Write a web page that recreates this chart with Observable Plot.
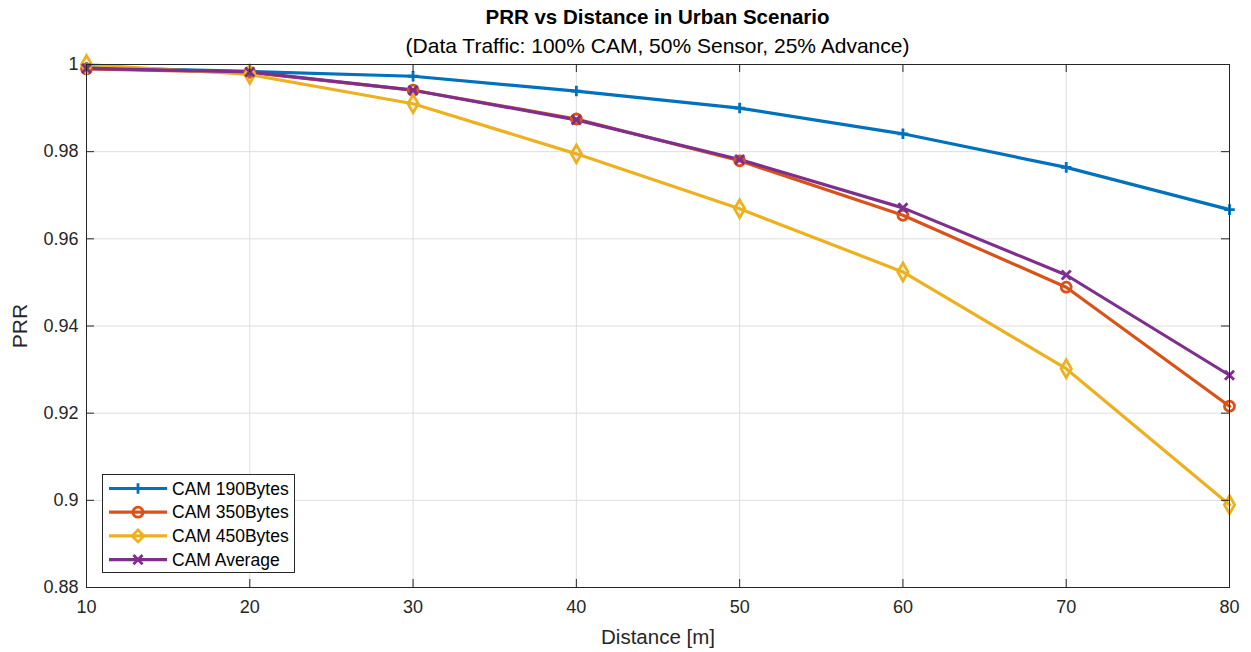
<!DOCTYPE html>
<html>
<head>
<meta charset="utf-8">
<script src="https://cdn.jsdelivr.net/npm/d3@7"></script>
<script src="https://cdn.jsdelivr.net/npm/@observablehq/plot@0.6"></script>
<style>
  html, body { margin: 0; padding: 0; background: #fff; }
  body { width: 1251px; height: 652px; position: relative; overflow: hidden; font-family: "Liberation Sans", Arial, sans-serif; color: #000; }
  #header { position: absolute; left: 86px; right: 22px; top: 0; text-align: center; z-index: 2; }
  #title { font-weight: bold; font-size: 20.5px; line-height: 34px; height: 34px; }
  #subtitle { font-size: 21px; line-height: 24px; height: 24px; }
  #legend { position: absolute; left: 102px; top: 474px; width: 193px; height: 99px; border: 1px solid #262626; background: #fff; box-sizing: border-box; z-index: 2; }
  #chart svg { display: block; }
</style>
</head>
<body>
<div id="chart"></div>
<div id="header">
  <div id="title">PRR vs Distance in Urban Scenario</div>
  <div id="subtitle">(Data Traffic: 100% CAM, 50% Sensor, 25% Advance)</div>
</div>
<div id="legend"></div>
<script>
const distance = [10, 20, 30, 40, 50, 60, 70, 80];
const cam190 = [0.9993, 0.9984, 0.9973, 0.9939, 0.9900, 0.9841, 0.9764, 0.9667];
const cam350 = [0.9990, 0.9982, 0.9941, 0.9875, 0.9779, 0.9654, 0.9489, 0.9216];
const cam450 = [1.0000, 0.9977, 0.9910, 0.9795, 0.9669, 0.9524, 0.9302, 0.8990];
const camAvg = [0.9991, 0.9983, 0.9941, 0.9873, 0.9782, 0.9671, 0.9517, 0.9287];
const seriesNames = ["CAM 190Bytes", "CAM 350Bytes", "CAM 450Bytes", "CAM Average"];
const seriesColors = ["#0072BD", "#D95319", "#EDB120", "#7E2F8E"];
const seriesSymbols = ["plus", "circle", "diamond", "times"];
const xTicks = [10, 20, 30, 40, 50, 60, 70, 80];
const yTicks = [0.88, 0.9, 0.92, 0.94, 0.96, 0.98, 1];

const allValues = [cam190, cam350, cam450, camAvg];
const data = allValues.flatMap((vals, i) =>
  vals.map((v, j) => ({ series: seriesNames[i], distance: distance[j], prr: v }))
);

// marker radius per symbol (Plot r -> area pi*r^2)
const symbolR = { plus: 3.5, circle: 5, diamond: 5.4, times: 4.2 };

const axisColor = "#262626";
const tickLenY = 8 * 0.12 / 523;
const tickLenX = 8 * 70 / 1143;

const plot = Plot.plot({
  width: 1251,
  height: 652,
  marginTop: 64,
  marginLeft: 86,
  marginRight: 22,
  marginBottom: 65,
  style: { fontFamily: "'Liberation Sans', Arial, sans-serif", fontSize: "18px", color: axisColor, background: "#fff" },
  x: { domain: [10, 80], ticks: xTicks },
  y: { domain: [0.88, 1], ticks: yTicks },
  color: { domain: seriesNames, range: seriesColors },
  symbol: { domain: seriesNames, range: seriesSymbols },
  marks: [
    Plot.gridX(xTicks, { stroke: "#dedede", strokeOpacity: 1, strokeWidth: 1 }),
    Plot.gridY(yTicks, { stroke: "#dedede", strokeOpacity: 1, strokeWidth: 1 }),
    Plot.line(data, { x: "distance", y: "prr", z: "series", stroke: "series", strokeWidth: 3.2 }),
    ...seriesNames.map((name, i) =>
      Plot.dot(data.filter(d => d.series === name), {
        x: "distance", y: "prr", stroke: "series", symbol: "series",
        r: symbolR[seriesSymbols[i]], strokeWidth: 2.8, fill: "none"
      })
    ),
    Plot.frame({ stroke: axisColor, strokeWidth: 1 }),
    // inward tick marks (MATLAB style)
    Plot.ruleX(xTicks, { x: d => d, y1: 0.88, y2: 0.88 + tickLenY, stroke: axisColor }),
    Plot.ruleX(xTicks, { x: d => d, y1: 1, y2: 1 - tickLenY, stroke: axisColor }),
    Plot.ruleY(yTicks, { y: d => d, x1: 10, x2: 10 + tickLenX, stroke: axisColor }),
    Plot.ruleY(yTicks, { y: d => d, x1: 80, x2: 80 - tickLenX, stroke: axisColor }),
    Plot.axisX(xTicks, { tickSize: 0, tickPadding: 13, label: null, fontSize: 18, fill: axisColor }),
    Plot.axisY(yTicks, { tickSize: 0, tickPadding: 8, label: null, fontSize: 18, fill: axisColor,
      tickFormat: d => String(+d.toFixed(2)) }),
    Plot.text(["Distance [m]"], { frameAnchor: "bottom", dy: 50, lineAnchor: "middle", fontSize: 20.5, fill: axisColor, text: d => d }),
    Plot.text(["PRR"], { frameAnchor: "left", dx: -66, rotate: -90, lineAnchor: "middle", textAnchor: "middle", fontSize: 21, fill: axisColor, text: d => d })
  ]
});
document.getElementById("chart").appendChild(plot);

// Legend
const legendSvg = d3.select("#legend").append("svg").attr("width", 191).attr("height", 97);
const symFns = { plus: d3.symbolPlus, circle: d3.symbolCircle, diamond: d3.symbolDiamond2, times: d3.symbolTimes };
seriesNames.forEach((name, i) => {
  const cy = 13.5 + i * 23.7;
  const g = legendSvg.append("g");
  const sym = seriesSymbols[i];
  g.append("line").attr("x1", 6).attr("x2", 64).attr("y1", cy).attr("y2", cy)
    .attr("stroke", seriesColors[i]).attr("stroke-width", 3.2);
  g.append("path").attr("d", d3.symbol(symFns[sym], Math.PI * symbolR[sym] ** 2)())
    .attr("transform", `translate(35,${cy})`)
    .attr("fill", "none").attr("stroke", seriesColors[i]).attr("stroke-width", 2.8);
  g.append("text").attr("x", 69).attr("y", cy).attr("dy", "0.35em")
    .attr("font-size", 17.5).attr("fill", "#000").text(name);
});
</script>
</body>
</html>
